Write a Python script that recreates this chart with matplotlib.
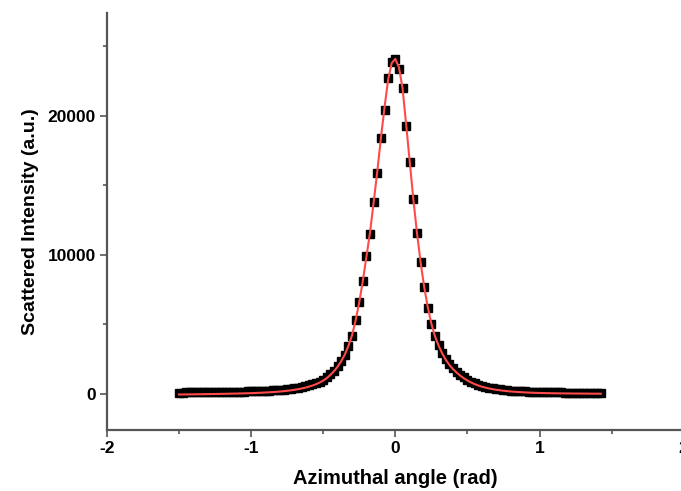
import matplotlib
matplotlib.use("Agg")
import matplotlib.pyplot as plt
from matplotlib.ticker import MultipleLocator, FixedLocator

# Azimuthal angle (rad), measured points
angle = [-1.500, -1.475, -1.450, -1.425, -1.400, -1.375, -1.350, -1.325, -1.300, -1.275,
         -1.250, -1.225, -1.200, -1.175, -1.150, -1.125, -1.100, -1.075, -1.050, -1.025,
         -1.000, -0.975, -0.950, -0.925, -0.900, -0.875, -0.850, -0.825, -0.800, -0.775,
         -0.750, -0.725, -0.700, -0.675, -0.650, -0.625, -0.600, -0.575, -0.550, -0.525,
         -0.500, -0.475, -0.450, -0.425, -0.400, -0.375, -0.350, -0.325, -0.300, -0.275,
         -0.250, -0.225, -0.200, -0.175, -0.150, -0.125, -0.100, -0.075, -0.050, -0.025,
         0.000, 0.025, 0.050, 0.075, 0.100, 0.125, 0.150, 0.175, 0.200, 0.225,
         0.250, 0.275, 0.300, 0.325, 0.350, 0.375, 0.400, 0.425, 0.450, 0.475,
         0.500, 0.525, 0.550, 0.575, 0.600, 0.625, 0.650, 0.675, 0.700, 0.725,
         0.750, 0.775, 0.800, 0.825, 0.850, 0.875, 0.900, 0.925, 0.950, 0.975,
         1.000, 1.025, 1.050, 1.075, 1.100, 1.125, 1.150, 1.175, 1.200, 1.225,
         1.250, 1.275, 1.300, 1.325, 1.350, 1.375, 1.400, 1.425]

# Scattered intensity (a.u.), measured points
intensity = [100, 103, 106, 109, 112, 115, 118, 122, 125, 129,
             133, 137, 141, 146, 151, 156, 162, 168, 175, 182,
             190, 199, 209, 220, 232, 245, 260, 277, 297, 320,
             345, 375, 410, 450, 495, 550, 615, 690, 780, 890,
             1020, 1200, 1430, 1680, 1980, 2350, 2800, 3450, 4200, 5350,
             6600, 8100, 9900, 11500, 13800, 15900, 18400, 20400, 22700, 23900,
             24100, 23400, 22000, 19300, 16700, 14000, 11600, 9500, 7700, 6200,
             5000, 4150, 3500, 2950, 2500, 2150, 1850, 1600, 1380, 1190,
             1020, 880, 760, 660, 580, 510, 450, 400, 360, 325,
             295, 270, 248, 228, 210, 195, 182, 170, 160, 150,
             142, 135, 128, 122, 116, 111, 106, 102, 98, 94,
             90, 87, 84, 81, 78, 76, 73, 71]

# Fitted curve (a.u.) at the same angles
fit = [-40, -37, -33, -30, -26, -22, -18, -14, -10, -6,
       -2, 3, 8, 13, 18, 24, 30, 37, 44, 52,
       60, 70, 80, 92, 105, 120, 136, 154, 175, 200,
       228, 260, 298, 342, 393, 452, 522, 604, 700, 820,
       965, 1140, 1370, 1640, 1960, 2360, 2840, 3460, 4230, 5300,
       6600, 8150, 9900, 11650, 13800, 16000, 18400, 20600, 22600, 23800,
       24100, 23500, 22000, 19400, 16700, 14000, 11600, 9500, 7700, 6250,
       5050, 4150, 3480, 2920, 2460, 2090, 1790, 1540, 1320, 1130,
       970, 830, 710, 610, 525, 455, 395, 345, 302, 265,
       232, 204, 180, 160, 142, 126, 112, 100, 90, 81,
       73, 66, 60, 55, 50, 46, 42, 39, 36, 33,
       31, 29, 27, 25, 23, 21, 20, 18]

x_ticks = [-2, -1, 0, 1, 2]
x_tick_labels = ['-2', '-1', '0', '1', '2']
y_ticks = [0, 10000, 20000]
y_tick_labels = ['0', '10000', '20000']

plt.rcParams['font.family'] = ['Liberation Sans', 'DejaVu Sans']
plt.rcParams['font.weight'] = 'bold'

fig = plt.figure(figsize=(6.81, 4.91), dpi=100)
ax = fig.add_axes([0.157, 0.124, 0.847, 0.8495])

ax.plot(angle, intensity, linestyle='none', marker='s', markersize=5.2,
        markerfacecolor='black', markeredgecolor='black', zorder=2)
ax.plot(angle, fit, color='#ff4a4a', linewidth=1.5, zorder=3)

ax.set_xlim(-2, 2)
ax.set_ylim(-2600, 27400)

ax.xaxis.set_major_locator(FixedLocator(x_ticks))
ax.set_xticklabels(x_tick_labels)
ax.xaxis.set_minor_locator(MultipleLocator(0.5))
ax.yaxis.set_major_locator(FixedLocator(y_ticks))
ax.set_yticklabels(y_tick_labels)
ax.yaxis.set_minor_locator(MultipleLocator(5000))

for s in ['top', 'right']:
    ax.spines[s].set_visible(False)
for s in ['left', 'bottom']:
    ax.spines[s].set_color('#555555')
    ax.spines[s].set_linewidth(1.6)

ax.tick_params(axis='both', which='major', direction='out', length=5, width=1.2,
               color='#555555', labelsize=12.5, pad=3)
ax.tick_params(axis='both', which='minor', direction='out', length=3, width=1.2,
               color='#555555')
for lab in ax.get_xticklabels() + ax.get_yticklabels():
    lab.set_fontweight('bold')

ax.set_xlabel('Azimuthal angle (rad)', fontsize=14.5, fontweight='bold', labelpad=9)
ax.set_ylabel('Scattered Intensity (a.u.)', fontsize=14, fontweight='bold', labelpad=6)

fig.savefig('out.png', dpi=100)
